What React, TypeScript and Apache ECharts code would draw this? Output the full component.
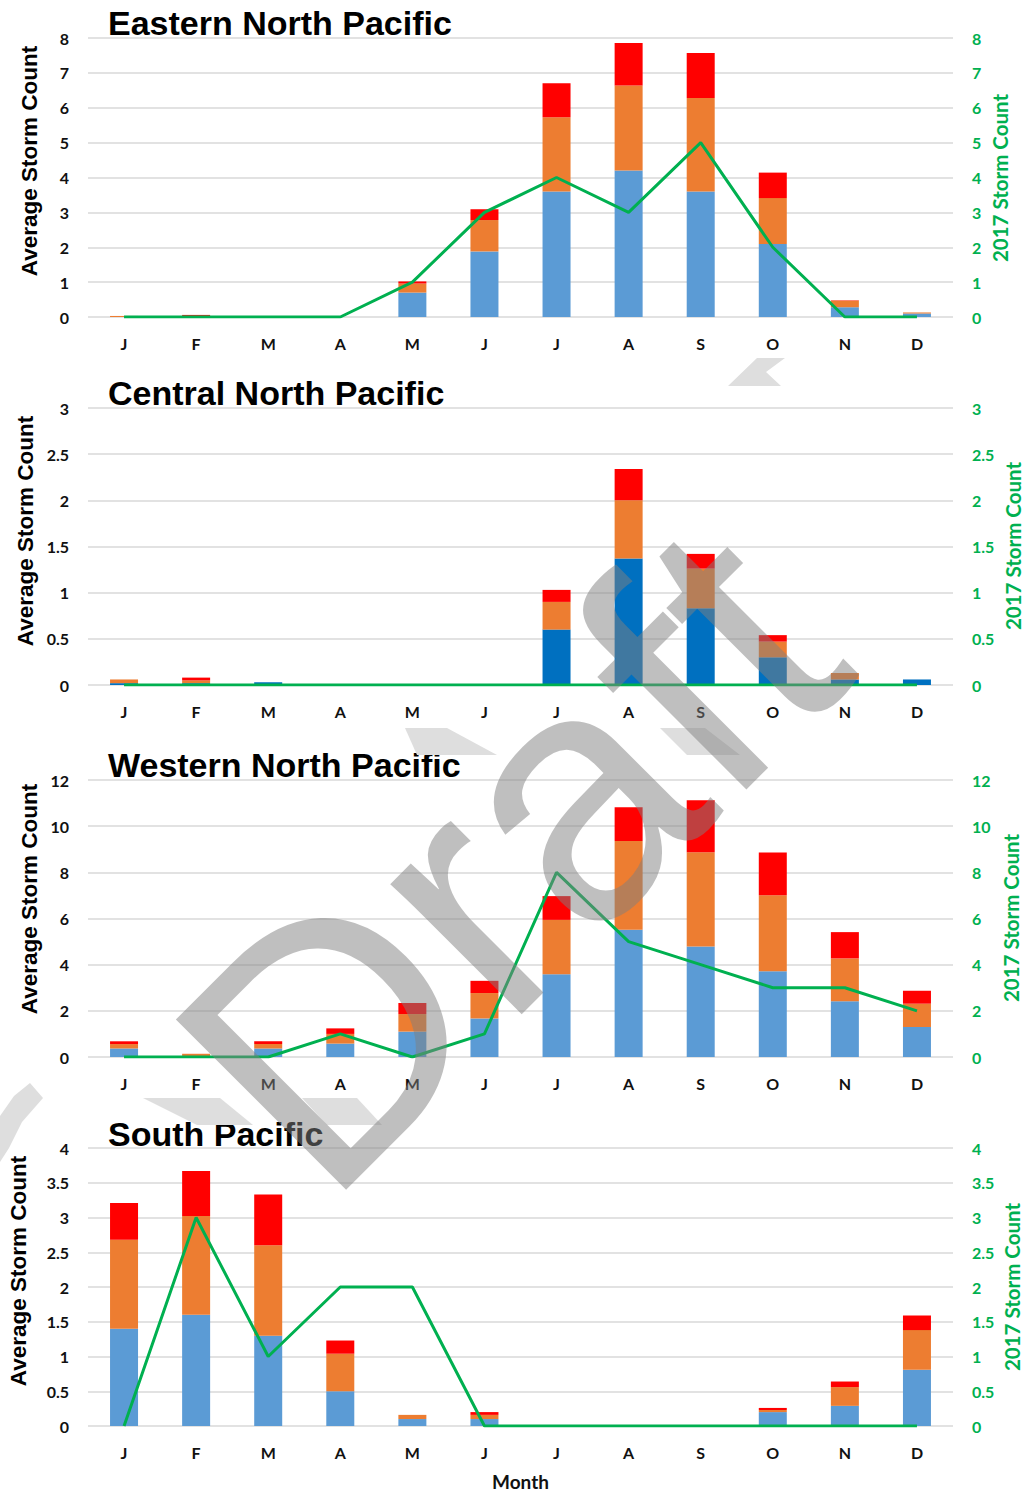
import React, { useEffect, useRef } from "react";
import * as echarts from "echarts";

const months = ["J", "F", "M", "A", "M", "J", "J", "A", "S", "O", "N", "D"];

const titles = ["Eastern North Pacific", "Central North Pacific", "Western North Pacific", "South Pacific"];
const leftName = "Average Storm Count";
const rightName = "2017 Storm Count";
const xName = "Month";
const watermark = "Draft";

const enpBlue = [0, 0.01, 0, 0, 0.7, 1.88, 3.6, 4.2, 3.6, 2.09, 0.28, 0.1];
const enpOrange = [0.03, 0.02, 0, 0, 0.26, 0.9, 2.13, 2.44, 2.68, 1.32, 0.19, 0.03];
const enpRed = [0, 0.03, 0, 0, 0.06, 0.31, 0.97, 1.22, 1.29, 0.73, 0.01, 0];
const enp2017 = [0, 0, 0, 0, 1, 3, 4, 3, 5, 2, 0, 0];

const cnpBlue = [0.02, 0.02, 0.03, 0, 0, 0, 0.6, 1.37, 0.83, 0.3, 0.06, 0.06];
const cnpOrange = [0.04, 0.03, 0, 0, 0, 0, 0.3, 0.63, 0.43, 0.17, 0.07, 0];
const cnpRed = [0, 0.03, 0, 0, 0, 0, 0.13, 0.34, 0.16, 0.07, 0, 0];
const cnp2017 = [0, 0, 0, 0, 0, 0, 0, 0, 0, 0, 0, 0];

const wnpBlue = [0.37, 0.03, 0.37, 0.58, 1.1, 1.67, 3.59, 5.51, 4.79, 3.71, 2.41, 1.3];
const wnpOrange = [0.19, 0.11, 0.19, 0.42, 0.76, 1.1, 2.35, 3.85, 4.08, 3.3, 1.86, 1.01];
const wnpRed = [0.12, 0, 0.12, 0.24, 0.48, 0.53, 1.03, 1.46, 2.25, 1.85, 1.14, 0.56];
const wnp2017 = [0, 0, 0, 1, 0, 1, 8, 5, 4, 3, 3, 2];

const spBlue = [1.4, 1.6, 1.3, 0.5, 0.1, 0.1, 0, 0, 0, 0.2, 0.29, 0.81];
const spOrange = [1.28, 1.42, 1.3, 0.54, 0.06, 0.06, 0, 0, 0, 0.03, 0.27, 0.57];
const spRed = [0.53, 0.65, 0.73, 0.19, 0, 0.04, 0, 0, 0, 0.03, 0.08, 0.21];
const sp2017 = [0, 3, 1, 2, 2, 0, 0, 0, 0, 0, 0, 0];

const axisMax = [8, 3, 12, 4];
const axisStep = [1, 0.5, 2, 0.5];

const panels = [
  { blue: enpBlue, orange: enpOrange, red: enpRed, line: enp2017 },
  { blue: cnpBlue, orange: cnpOrange, red: cnpRed, line: cnp2017 },
  { blue: wnpBlue, orange: wnpOrange, red: wnpRed, line: wnp2017 },
  { blue: spBlue, orange: spOrange, red: spRed, line: sp2017 },
];

// layout (pixels)
const gridTops = [38, 408, 780, 1148];
const gridHeights = [279, 277, 277, 278];
const titleY = [22.5, 392.5, 765, 1134];
const leftNamePos = [[29, 161], [25, 531], [29, 899], [18, 1271]];
const rightNamePos = [[1000, 178], [1013, 546], [1011, 918], [1012, 1287]];
const blueColors = ["#5B9BD5", "#0070C0", "#5B9BD5", "#5B9BD5"];

// light gray watermark fragments visible in the gaps between panels
const lightShapes = [
  [[757, 358], [785, 358], [766, 372], [781, 386], [728, 386]],
  [[405, 728], [447, 728], [497, 755], [417, 755]],
  [[660, 728], [705, 728], [740, 755], [687, 755]],
  [[143, 1098], [220, 1098], [253, 1125], [197, 1125]],
  [[302, 1098], [357, 1098], [382, 1125], [327, 1125]],
  [[30, 1083], [43, 1098], [22, 1122], [9, 1148], [0, 1162], [0, 1116], [14, 1096]],
];

const TICK_FONT = "Lato";

export default function App() {
  const ref = useRef<HTMLDivElement>(null);
  useEffect(() => {
    if (!ref.current) return;
    const chart = echarts.init(ref.current, null, { renderer: "svg" });
    const grid: any[] = [];
    const xAxis: any[] = [];
    const yAxis: any[] = [];
    const series: any[] = [];
    const tickLabel = { margin: 19, color: "#111", fontFamily: TICK_FONT, fontWeight: "bold", fontSize: 16 };
    panels.forEach((p, i) => {
      grid.push({ left: 88, right: 71, top: gridTops[i], height: gridHeights[i], outerBoundsMode: "none", containLabel: false });
      xAxis.push({
        type: "category",
        gridIndex: i,
        data: months,
        axisLine: { show: false },
        axisTick: { show: false },
        axisLabel: { ...tickLabel, margin: 18 },
        name: i === 3 ? xName : "",
        nameLocation: "middle",
        nameGap: 46,
        nameTextStyle: { color: "#111", fontFamily: TICK_FONT, fontWeight: "bold", fontSize: 19 },
      });
      yAxis.push({
        type: "value",
        gridIndex: i,
        min: 0,
        max: axisMax[i],
        interval: axisStep[i],
        position: "left",
        axisLine: { show: false },
        axisTick: { show: false },
        splitLine: { show: true, lineStyle: { color: "#d9d9d9", width: 1.5 } },
        axisLabel: tickLabel,
      });
      yAxis.push({
        type: "value",
        gridIndex: i,
        min: 0,
        max: axisMax[i],
        interval: axisStep[i],
        position: "right",
        axisLine: { show: false },
        axisTick: { show: false },
        splitLine: { show: false },
        axisLabel: { ...tickLabel, color: "#00B050", align: "left" },
      });
      const stack = "s" + i;
      const bars: [number[], string][] = [
        [p.blue, blueColors[i]],
        [p.orange, "#ED7D31"],
        [p.red, "#FF0000"],
      ];
      bars.forEach(([d, c]) => {
        series.push({
          type: "bar",
          xAxisIndex: i,
          yAxisIndex: i * 2,
          stack,
          data: d,
          barWidth: 28,
          itemStyle: { color: c },
        });
      });
      series.push({
        type: "line",
        xAxisIndex: i,
        yAxisIndex: i * 2 + 1,
        data: p.line,
        symbol: "none",
        z: 5,
        lineStyle: { color: "#00B050", width: 3 },
      });
    });
    const graphic: any[] = [];
    titles.forEach((t, i) => {
      graphic.push({
        type: "text",
        x: 108,
        y: titleY[i],
        z: 10,
        style: {
          text: t,
          fill: "#000",
          font: "bold 34px 'Liberation Sans'",
          textAlign: "left",
          textVerticalAlign: "middle",
        },
      });
      graphic.push({
        type: "text",
        x: leftNamePos[i][0],
        y: leftNamePos[i][1],
        rotation: Math.PI / 2,
        z: 10,
        style: {
          text: leftName,
          fill: "#000",
          font: "bold 22.5px 'Liberation Sans'",
          textAlign: "center",
          textVerticalAlign: "middle",
        },
      });
      graphic.push({
        type: "text",
        x: rightNamePos[i][0],
        y: rightNamePos[i][1],
        rotation: Math.PI / 2,
        z: 10,
        style: {
          text: rightName,
          fill: "#00B050",
          font: "bold 20.5px Lato",
          textAlign: "center",
          textVerticalAlign: "middle",
        },
      });
    });
    lightShapes.forEach((pts) => {
      graphic.push({
        type: "polygon",
        z: 50,
        silent: true,
        shape: { points: pts },
        style: { fill: "#dedede" },
      });
    });
    graphic.push({
      type: "text",
      x: 508,
      y: 856,
      rotation: Math.PI / 4,
      z: 100,
      silent: true,
      style: {
        text: watermark,
        fill: "rgba(128,128,128,0.5)",
        font: "350px 'Liberation Sans'",
        textAlign: "center",
        textVerticalAlign: "middle",
      },
    });
    chart.setOption({
      animation: false,
      backgroundColor: "#fff",
      grid,
      xAxis,
      yAxis,
      series,
      graphic,
    });
    return () => chart.dispose();
  }, []);
  return (
    <div
      ref={ref}
      style={{ position: "absolute", left: 0, top: 0, width: 1024, height: 1492 }}
    />
  );
}
